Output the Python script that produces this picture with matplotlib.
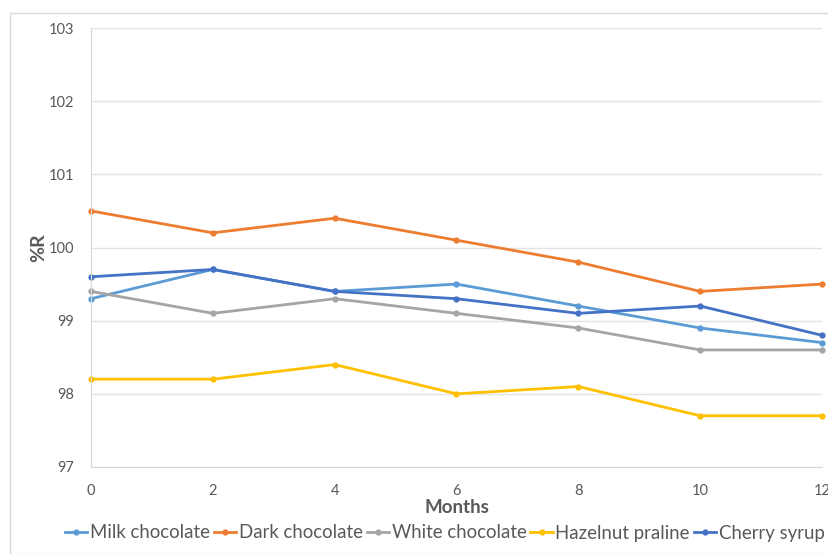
import matplotlib
matplotlib.use("Agg")
import matplotlib.pyplot as plt
from matplotlib.patches import Rectangle

months = [0, 2, 4, 6, 8, 10, 12]
milk_chocolate = [99.3, 99.7, 99.4, 99.5, 99.2, 98.9, 98.7]
dark_chocolate = [100.5, 100.2, 100.4, 100.1, 99.8, 99.4, 99.5]
white_chocolate = [99.4, 99.1, 99.3, 99.1, 98.9, 98.6, 98.6]
hazelnut_praline = [98.2, 98.2, 98.4, 98.0, 98.1, 97.7, 97.7]
cherry_syrup = [99.6, 99.7, 99.4, 99.3, 99.1, 99.2, 98.8]

series = [
    ("Milk chocolate", milk_chocolate, "#5B9BD5"),
    ("Dark chocolate", dark_chocolate, "#ED7D31"),
    ("White chocolate", white_chocolate, "#A5A5A5"),
    ("Hazelnut praline", hazelnut_praline, "#FFC000"),
    ("Cherry syrup", cherry_syrup, "#4472C4"),
]

plt.rcParams["font.family"] = ["Lato", "DejaVu Sans"]

W, H = 829, 554
fig = plt.figure(figsize=(W / 100, H / 100), dpi=100)

# chart frame
fig.patches.append(Rectangle((10 / W, 0), 1.2, 1 - 13 / H, transform=fig.transFigure,
                             fill=False, edgecolor="#D9D9D9", linewidth=1.0))

ax = fig.add_axes([91 / W, 1 - 467 / H, (822 - 91) / W, (467 - 28) / H])
for name, vals, col in series:
    ax.plot(months, vals, color=col, linewidth=2.0, marker="o", markersize=3.5,
            label=name, clip_on=False)

ax.set_xlim(0, 12)
ax.set_ylim(97, 103)
ax.set_xticks(months)
ax.set_yticks([97, 98, 99, 100, 101, 102, 103])
ax.grid(axis="y", color="#E3E3E3", linewidth=1.0)
ax.set_axisbelow(True)
for s in ["top", "right"]:
    ax.spines[s].set_visible(False)
ax.spines["left"].set_color("#D9D9D9")
ax.spines["bottom"].set_color("#D9D9D9")
ax.tick_params(length=0, labelsize=10.5, colors="#595959")
ax.tick_params(axis="x", pad=12)
ax.tick_params(axis="y", pad=12)

ax.set_xlabel("Months", fontsize=13.5, fontweight="bold", color="#595959", labelpad=1)
ax.set_ylabel("%R", fontsize=14, fontweight="bold", color="#595959", labelpad=1)

ax.legend(loc="center", bbox_to_anchor=(0.484, (554 - 533 - (554 - 467)) / 439),
          ncol=5, frameon=False, fontsize=13.4, handlelength=1.2,
          handletextpad=0.15, columnspacing=0.2, borderpad=0,
          labelcolor="#595959")

fig.savefig("out.png", dpi=100)
